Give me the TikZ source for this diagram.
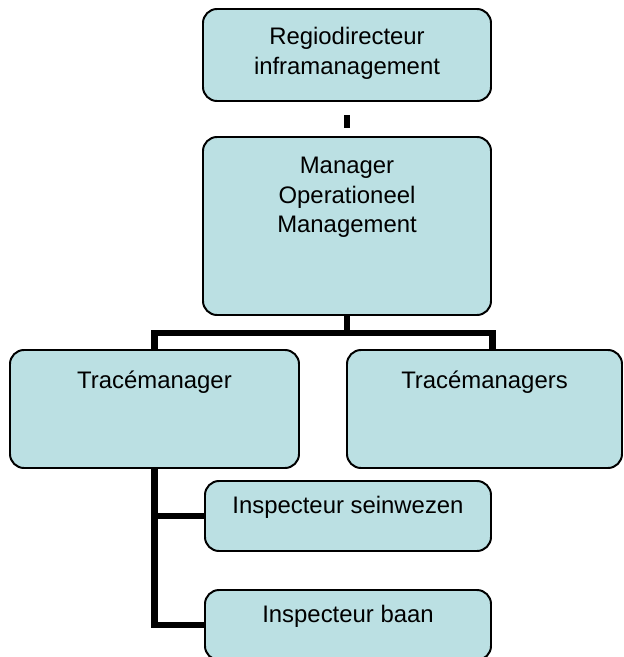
\documentclass[tikz,border=0pt]{standalone}
\usepackage{fontspec}
\setmainfont{Liberation Sans}
\usetikzlibrary{positioning}

\definecolor{boxfill}{RGB}{187,224,227}

\begin{document}
\begin{tikzpicture}[
    % --- stijlen ---
    role/.style={
            draw=black,
            line width=1.4pt,
            fill=boxfill,
            rounded corners=10pt,
            align=center,
            inner sep=0pt,
            outer sep=0pt,
            font=\fontsize{17}{20.8}\selectfont
        },
    link/.style={
            draw=black,
            line width=4.5pt
        }
    ]
    \useasboundingbox (0,0) rectangle (15.6,-16.425);

    % 1. Directie
    \node[role, minimum width=7.2cm, minimum height=2.3cm] (regio) at (8.675,-1.375) {Regiodirecteur\\inframanagement\\[-0.525cm]};
    \node[role, minimum width=7.2cm, minimum height=4.45cm, below=0.9cm of regio] (manager) {Manager\\Operationeel\\Management\\[0.825cm]};

    % 2. Tracemanagers
    \node[role, minimum width=7.225cm, minimum height=2.95cm, below left=0.875cm and 1.2cm of manager.south] (trace1) {Tracémanager\\[0.725cm]};
    \node[role, minimum width=6.875cm, minimum height=2.95cm, below right=0.875cm and 0cm of manager.south] (trace2) {Tracémanagers\\[0.725cm]};

    % 3. Inspecteurs
    \node[role, minimum width=7.15cm, minimum height=1.75cm, below right=0.325cm and 1.2625cm of trace1.south] (seinwezen) {Inspecteur seinwezen\\[-0.175cm]};
    \node[role, minimum width=7.15cm, minimum height=1.75cm, below=0.975cm of seinwezen] (baan) {Inspecteur baan\\[-0.175cm]};

    % 4. Verbindingen
    \draw[link] ([yshift=-0.35cm]regio.south) -- ([yshift=0.225cm]manager.north);
    \draw[link] (manager.south) -- ++(0,-0.45) -| (trace1.north);
    \draw[link] (manager.south) -- ++(0,-0.45) -| ([xshift=0.2cm]trace2.north);
    \draw[link] (trace1.south) |- (seinwezen.west);
    \draw[link] (trace1.south) |- (baan.west);

\end{tikzpicture}
\end{document}
